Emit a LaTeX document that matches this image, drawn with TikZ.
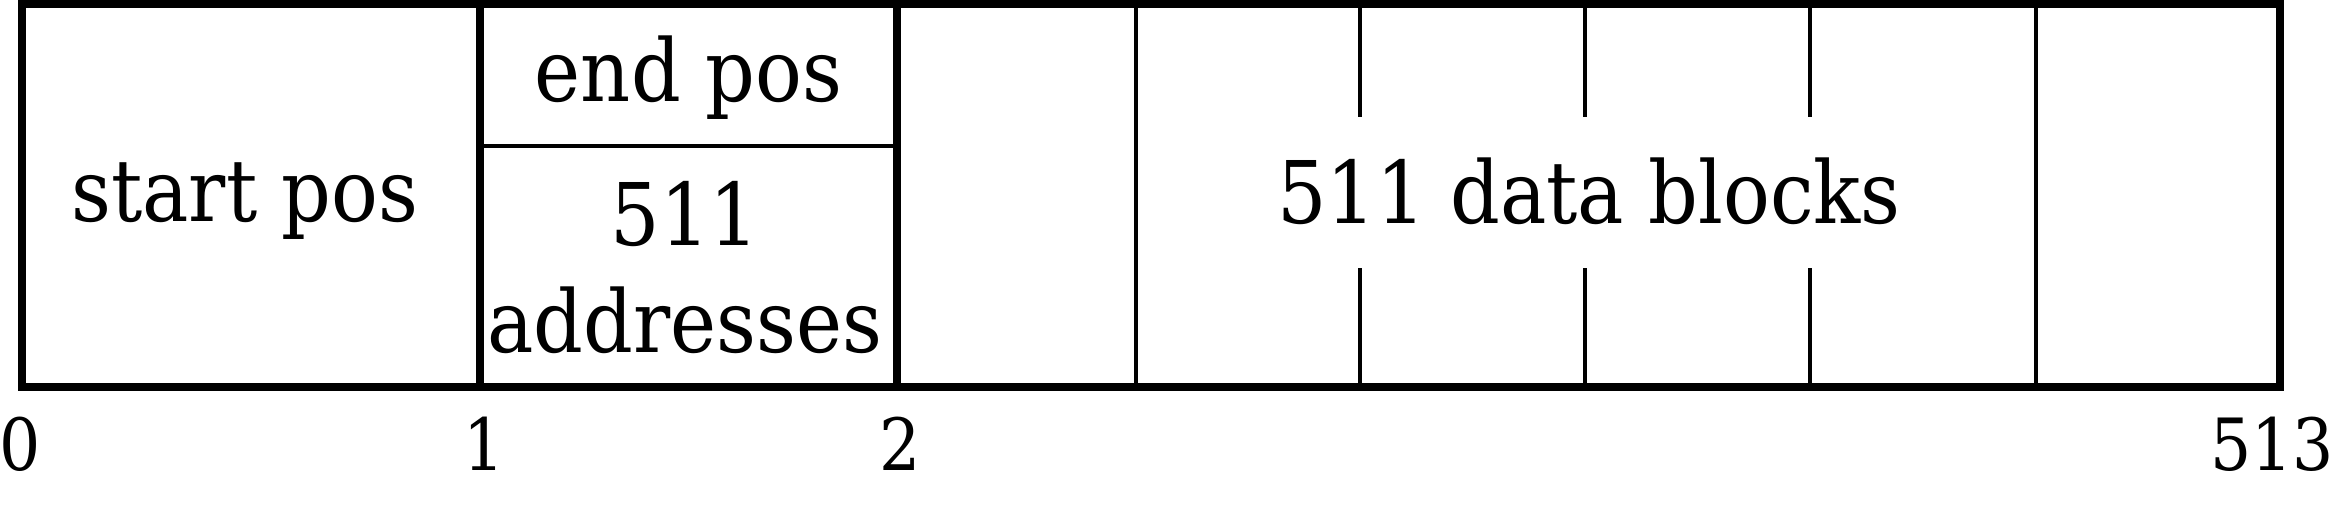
\documentclass[tikz,border=0pt]{standalone}
\usepackage{fontspec}
\setmainfont{DejaVu Serif Condensed}
\usetikzlibrary{positioning}

\begin{document}
\begin{tikzpicture}[
  thickline/.style={line width=2.4pt},
  thinline/.style={line width=1.3pt},
  celltext/.style={font=\fontsize{24.6}{30}\selectfont,anchor=base,inner sep=0pt},
  idxtext/.style={font=\fontsize{20.5}{24}\selectfont,anchor=base,inner sep=0pt}
]
\useasboundingbox (0,0) rectangle (23.39,5.04);
% cell boundaries
\coordinate (c0) at (0.22,1.17);
\coordinate (c1) at (4.80,1.17);
\coordinate (c2) at (8.97,1.17);
\coordinate (c513) at (22.80,1.17);
\draw[thinline] (4.80,3.58) -- (8.97,3.58);
\foreach \x in {11.36,20.36} \draw[thinline] (\x,1.17) -- (\x,5.00);
\foreach \x in {13.60,15.85,18.10} {
  \draw[thinline] (\x,5.00) -- (\x,3.87);
  \draw[thinline] (\x,1.17) -- (\x,2.36);
}
\draw[thickline] (c1) -- (4.80,5.00);
\draw[thickline] (c2) -- (8.97,5.00);
\draw[thickline] (c0) rectangle (22.80,5.00);

% cell labels
\node[celltext] (start) at (2.45,2.825) {start pos};
\node[celltext] (endpos) at (6.885,4.03) {end pos};
\node[celltext] (addrnum) at (6.85,2.59) {511};
\node[celltext] (addr) at (6.85,1.52) {addresses};
\node[celltext] (data) at (15.89,2.81) {511 data blocks};

% offsets
\node[idxtext] (i0) at (0.20,0.34) {0};
\node[idxtext] (i1) at (4.84,0.34) {1};
\node[idxtext] (i2) at (9.00,0.34) {2};
\node[idxtext] (i513) at (22.72,0.34) {513};
\end{tikzpicture}
\end{document}
